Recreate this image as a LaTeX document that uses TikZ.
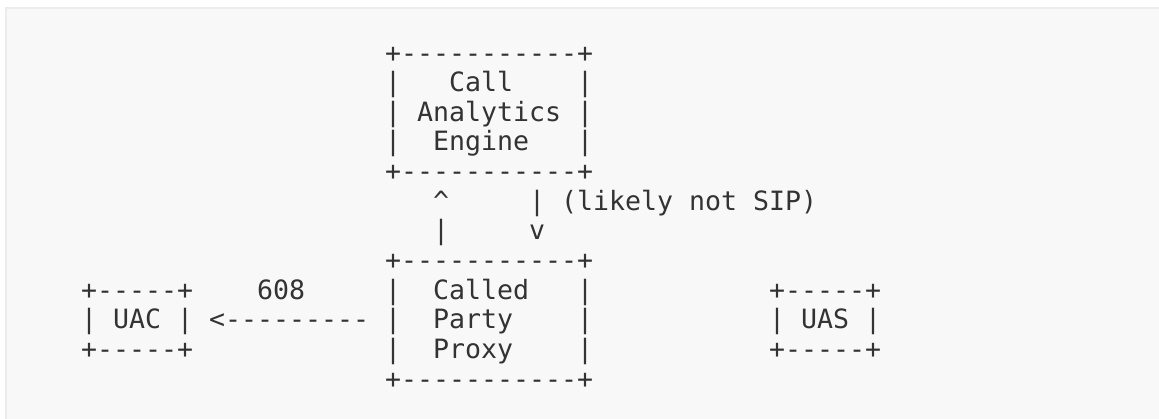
\documentclass[tikz,border=0pt]{standalone}
\usepackage{fontspec}
\setmonofont{DejaVu Sans Mono}
\definecolor{panelfill}{HTML}{F8F8F8}
\definecolor{panelline}{HTML}{ECECEC}
\definecolor{ink}{HTML}{333333}
\begin{document}
\begin{tikzpicture}[x=1pt,y=-1pt,
  art/.style={anchor=base west,inner sep=0pt,outer sep=0pt,text=ink,
    font=\ttfamily\fontsize{26.58}{30}\selectfont}]
\useasboundingbox (0,0) rectangle (1159,418);
\clip (0,0) rectangle (1159,418);
\fill[white] (0,0) rectangle (1159,418);
\draw[panelline,line width=2.5pt,fill=panelfill] (6,8) rectangle (1170,430);
\begin{scope}[shift={(81,62)},x=16pt,y=-29.65pt]
% Call Analytics Engine box
\node[art] (e0) at (19,0) {+-----------+};
\node[art] (e1l) at (19,1) {|};
\node[art] (e1t) at (23,1) {Call};
\node[art] (e1r) at (31,1) {|};
\node[art] (e2l) at (19,2) {|};
\node[art] (e2t) at (21,2) {Analytics};
\node[art] (e2r) at (31,2) {|};
\node[art] (e3l) at (19,3) {|};
\node[art] (e3t) at (22,3) {Engine};
\node[art] (e3r) at (31,3) {|};
\node[art] (e4) at (19,4) {+-----------+};
% vertical arrows
\node[art] (up1) at (22,5) {\^{}};
\node[art] (dn1) at (28,5) {|};
\node[art] (lbl) at (30,5) {(likely not SIP)};
\node[art] (up2) at (22,6) {|};
\node[art] (dn2) at (28,6) {v};
% Called Party Proxy box
\node[art] (p0) at (19,7) {+-----------+};
\node[art] (p1l) at (19,8) {|};
\node[art] (p1t) at (22,8) {Called};
\node[art] (p1r) at (31,8) {|};
\node[art] (p2l) at (19,9) {|};
\node[art] (p2t) at (22,9) {Party};
\node[art] (p2r) at (31,9) {|};
\node[art] (p3l) at (19,10) {|};
\node[art] (p3t) at (22,10) {Proxy};
\node[art] (p3r) at (31,10) {|};
\node[art] (p4) at (19,11) {+-----------+};
% UAC box
\node[art] (c0) at (0,8) {+-----+};
\node[art] (c1l) at (0,9) {|};
\node[art] (c1t) at (2,9) {UAC};
\node[art] (c1r) at (6,9) {|};
\node[art] (c2) at (0,10) {+-----+};
% 608 arrow
\node[art] (n608) at (11,8) {608};
\node[art] (arr) at (8,9) {<---------};
% UAS box
\node[art] (s0) at (43,8) {+-----+};
\node[art] (s1l) at (43,9) {|};
\node[art] (s1t) at (45,9) {UAS};
\node[art] (s1r) at (49,9) {|};
\node[art] (s2) at (43,10) {+-----+};
\end{scope}
\end{tikzpicture}
\end{document}
